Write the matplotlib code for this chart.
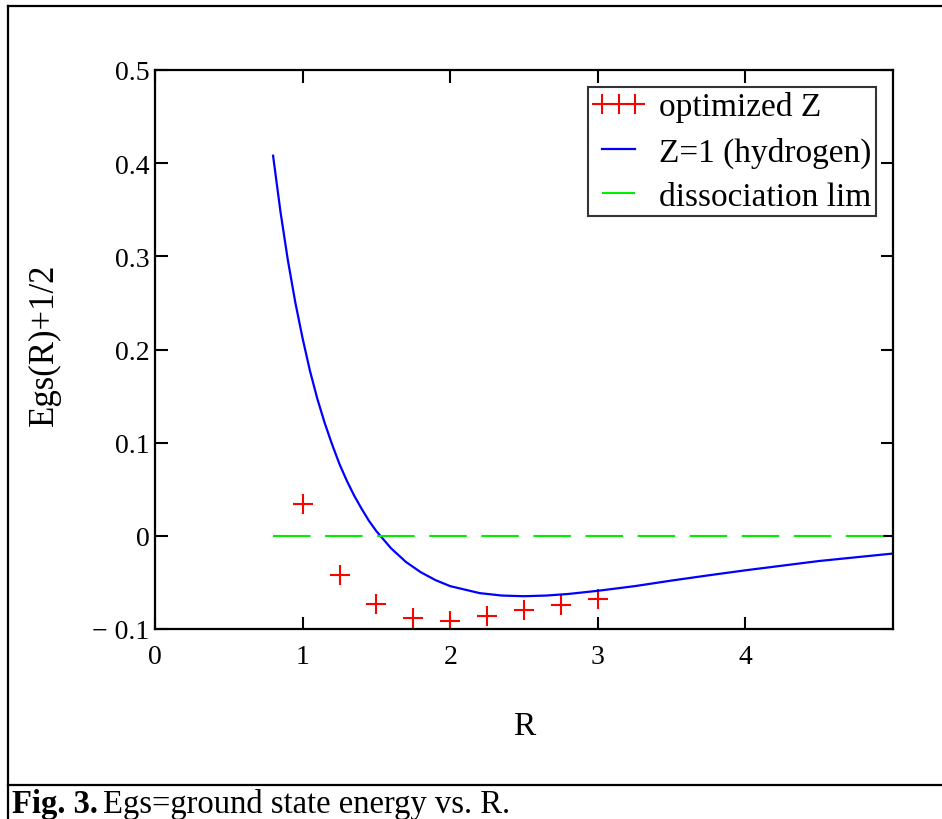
import matplotlib
matplotlib.use('Agg')
import matplotlib.pyplot as plt
from matplotlib.lines import Line2D

# optimized Z points
r_opt = [1.0, 1.25, 1.5, 1.75, 2.0, 2.25, 2.5, 2.75, 3.0]
e_opt = [0.034, -0.042, -0.073, -0.088, -0.091, -0.086, -0.080, -0.074, -0.068]

# Z=1 (hydrogen) curve
r_h = [0.8, 0.85, 0.9, 0.95, 1.0, 1.05, 1.1, 1.15, 1.2, 1.25, 1.3, 1.35, 1.4,
       1.45, 1.5, 1.6, 1.7, 1.8, 1.9, 2.0, 2.2, 2.35, 2.5, 2.65, 2.8, 3.0,
       3.25, 3.5, 3.75, 4.0, 4.5, 5.0]
e_h = [0.408, 0.348, 0.296, 0.251, 0.212, 0.177, 0.147, 0.121, 0.098, 0.077,
       0.059, 0.043, 0.029, 0.016, 0.005, -0.0135, -0.028, -0.039, -0.0475,
       -0.054, -0.0615, -0.0641, -0.0648, -0.0641, -0.0624, -0.059, -0.054,
       -0.048, -0.0424, -0.037, -0.027, -0.019]

# dissociation limit
r_lim = [0.8, 5.0]
e_lim = [0.0, 0.0]

xticks = [0, 1, 2, 3, 4]
yticks = [-0.1, 0, 0.1, 0.2, 0.3, 0.4, 0.5]
ytick_labels = ['\u2212 0.1', '0', '0.1', '0.2', '0.3', '0.4', '0.5']

plt.rcParams['font.family'] = ['Liberation Serif', 'DejaVu Serif']

W, H = 942, 820
fig = plt.figure(figsize=(W / 100, H / 100), dpi=100)
ax = fig.add_axes([155 / W, 1 - 630 / H, (893 - 155) / W, (630 - 71) / H])

ax.plot(r_opt, e_opt, linestyle='none', marker='+', color='#ff0000',
        markersize=14, markeredgewidth=1.5, label='optimized Z')
ax.plot(r_h, e_h, color='#0000ff', linewidth=1.6, label='Z=1 (hydrogen)')
ax.plot(r_lim, e_lim, color='#00ee00', linewidth=1.5, dashes=(18, 7),
        label='dissociation lim')

ax.set_xlim(0, 5)
ax.set_ylim(-0.1, 0.5)
ax.set_xticks(xticks)
ax.set_xticklabels([str(t) for t in xticks])
ax.set_yticks(yticks)
ax.set_yticklabels(ytick_labels)

for s in ax.spines.values():
    s.set_linewidth(1.6)
ax.tick_params(direction='in', length=9, width=1.5, labelsize=20,
               top=True, right=True)
ax.tick_params(axis='y', pad=4)
ax.tick_params(axis='x', pad=11)

ax.set_xlabel('R', fontsize=24)
ax.xaxis.set_label_coords(0.5, -0.145)
ax.set_ylabel('Egs(R)+1/2', fontsize=25)
ax.yaxis.set_label_coords(-0.127, 0.51)

leg = ax.legend(loc='upper right', numpoints=3, fontsize=24, frameon=True,
                fancybox=False, handlelength=1.6, handletextpad=0.42,
                borderaxespad=0.52, borderpad=0.12, labelspacing=0.42)
leg.get_frame().set_edgecolor('black')
leg.get_frame().set_linewidth(1.5)

# outer frame and caption line
fig.add_artist(Line2D([8 / W, 8 / W], [0, 1 - 7 / H], color='black', linewidth=1.6))
fig.add_artist(Line2D([8 / W, 1], [1 - 7 / H, 1 - 7 / H], color='black', linewidth=1.6))
fig.add_artist(Line2D([8 / W, 1], [1 - 786 / H, 1 - 786 / H], color='black', linewidth=1.6))

t1 = fig.text(12 / W, 1 - 813 / H, 'Fig. 3.', fontsize=23.5, fontweight='bold')
renderer = fig.canvas.get_renderer()
bb = t1.get_window_extent(renderer)
fig.text(bb.x1 / W + 5 / W, 1 - 813 / H, 'Egs=ground state energy vs. R.', fontsize=23.5)

fig.savefig('out.png', dpi=100)
